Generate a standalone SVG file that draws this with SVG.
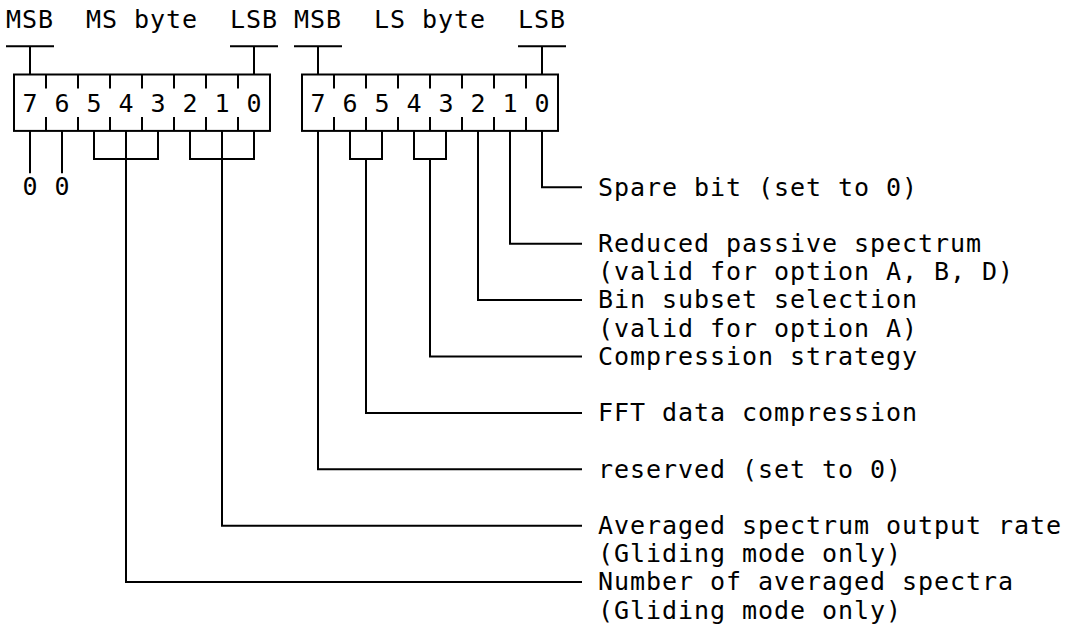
<svg xmlns="http://www.w3.org/2000/svg" width="1065" height="624" viewBox="0 0 1065 624">
  <style>
    .t { font-family: "DejaVu Sans Mono", "Liberation Mono", monospace; font-size: 25px; fill: #000; letter-spacing: 0.95px; }
    .d { font-family: "DejaVu Sans Mono", "Liberation Mono", monospace; font-size: 25px; fill: #000; text-anchor: middle; }
    .ln { fill: none; stroke: #000; stroke-width: 2; stroke-linejoin: miter; }
  </style>
  <rect width="1065" height="624" fill="#fff"/>

  <g id="header">
    <text class="t" x="6" y="28.3">MSB</text>
    <text class="t" x="86" y="28.3">MS byte</text>
    <text class="t" x="230" y="28.3">LSB</text>
    <text class="t" x="294" y="28.3">MSB</text>
    <text class="t" x="374" y="28.3">LS byte</text>
    <text class="t" x="518" y="28.3">LSB</text>
  </g>

  <g id="ms-byte">
    <path class="ln" d="M6 46.3H54M30 46.3V74.5M230 46.3H278M254 46.3V74.5"/>
    <rect class="ln" x="14" y="74.5" width="256" height="56.4"/>
    <path class="ln" d="M46 74.5V88.6M78 74.5V88.6M110 74.5V88.6M142 74.5V88.6M174 74.5V88.6M206 74.5V88.6M238 74.5V88.6M46 117V130.9M78 117V130.9M110 117V130.9M142 117V130.9M174 117V130.9M206 117V130.9M238 117V130.9"/>
    <text class="d" x="30" y="111.7">7</text>
    <text class="d" x="62" y="111.7">6</text>
    <text class="d" x="94" y="111.7">5</text>
    <text class="d" x="126" y="111.7">4</text>
    <text class="d" x="158" y="111.7">3</text>
    <text class="d" x="190" y="111.7">2</text>
    <text class="d" x="222" y="111.7">1</text>
    <text class="d" x="254" y="111.7">0</text>
  </g>

  <g id="ls-byte">
    <path class="ln" d="M294 46.3H342M318 46.3V74.5M518 46.3H566M542 46.3V74.5"/>
    <rect class="ln" x="302" y="74.5" width="256" height="56.4"/>
    <path class="ln" d="M334 74.5V88.6M366 74.5V88.6M398 74.5V88.6M430 74.5V88.6M462 74.5V88.6M494 74.5V88.6M526 74.5V88.6M334 117V130.9M366 117V130.9M398 117V130.9M430 117V130.9M462 117V130.9M494 117V130.9M526 117V130.9"/>
    <text class="d" x="318" y="111.7">7</text>
    <text class="d" x="350" y="111.7">6</text>
    <text class="d" x="382" y="111.7">5</text>
    <text class="d" x="414" y="111.7">4</text>
    <text class="d" x="446" y="111.7">3</text>
    <text class="d" x="478" y="111.7">2</text>
    <text class="d" x="510" y="111.7">1</text>
    <text class="d" x="542" y="111.7">0</text>
  </g>

  <g id="connectors">
    <path class="ln" d="M30 130.9V173.2M62 130.9V173.2"/>
    <path class="ln" d="M94 130.9V159.1H158V130.9M126 130.9V582.1H582"/>
    <path class="ln" d="M190 130.9V159.1H254V130.9M222 130.9V525.7H582"/>
    <path class="ln" d="M318 130.9V469.3H582"/>
    <path class="ln" d="M350 130.9V159.1H382V130.9M366 159.1V412.9H582"/>
    <path class="ln" d="M414 130.9V159.1H446V130.9M430 159.1V356.5H582"/>
    <path class="ln" d="M478 130.9V300.1H582"/>
    <path class="ln" d="M510 130.9V243.7H582"/>
    <path class="ln" d="M542 130.9V187.3H582"/>
  </g>

  <g id="fixed-bits">
    <text class="d" x="30" y="195.3">0</text>
    <text class="d" x="62" y="195.3">0</text>
  </g>

  <g id="labels">
    <text class="t" x="598" y="195.5">Spare bit (set to 0)</text>
    <text class="t" x="598" y="252">Reduced passive spectrum</text>
    <text class="t" x="598" y="280.2">(valid for option A, B, D)</text>
    <text class="t" x="598" y="308.4">Bin subset selection</text>
    <text class="t" x="598" y="336.6">(valid for option A)</text>
    <text class="t" x="598" y="364.8">Compression strategy</text>
    <text class="t" x="598" y="421.2">FFT data compression</text>
    <text class="t" x="598" y="477.6">reserved (set to 0)</text>
    <text class="t" x="598" y="534">Averaged spectrum output rate</text>
    <text class="t" x="598" y="562.2">(Gliding mode only)</text>
    <text class="t" x="598" y="590.4">Number of averaged spectra</text>
    <text class="t" x="598" y="618.6">(Gliding mode only)</text>
  </g>
</svg>
